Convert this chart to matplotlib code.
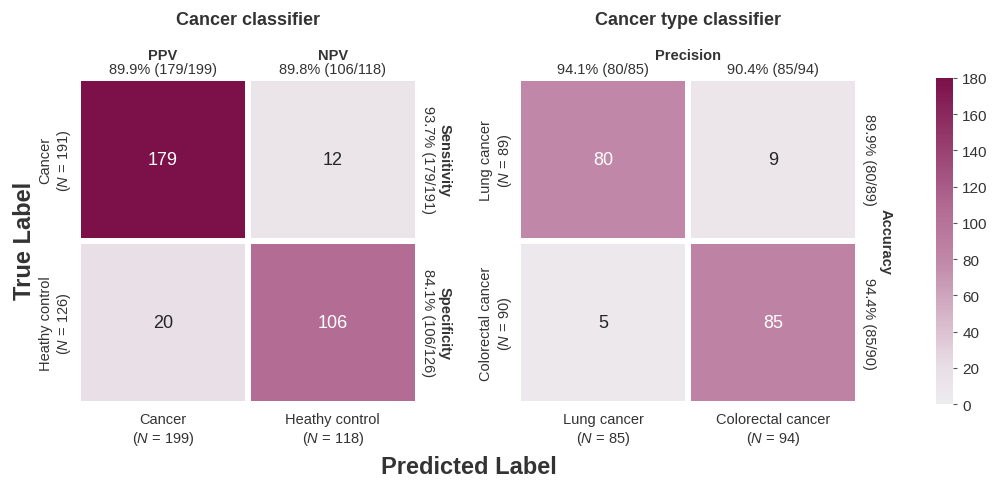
import numpy as np
import matplotlib.pyplot as plt
import seaborn as sns
from matplotlib.colors import LinearSegmentedColormap

sns.set_style('white')
plt.rcParams['font.family'] = ['Liberation Sans', 'DejaVu Sans']
plt.rcParams['mathtext.fontset'] = 'custom'
plt.rcParams['mathtext.it'] = 'Liberation Sans:italic'
plt.rcParams['mathtext.rm'] = 'Liberation Sans'

# Matrius de confusio
cancer_cm = np.array([[179, 12], [20, 106]])
type_cm = np.array([[80, 9], [5, 85]])

cancer_true = ['Cancer\n($\\mathit{N}$ = 191)', 'Heathy control\n($\\mathit{N}$ = 126)']
cancer_pred = ['Cancer\n($\\mathit{N}$ = 199)', 'Heathy control\n($\\mathit{N}$ = 118)']
type_true = ['Lung cancer\n($\\mathit{N}$ = 89)', 'Colorectal cancer\n($\\mathit{N}$ = 90)']
type_pred = ['Lung cancer\n($\\mathit{N}$ = 85)', 'Colorectal cancer\n($\\mathit{N}$ = 94)']

cancer_top_names = ['PPV', 'NPV']
cancer_top_vals = ['89.9% (179/199)', '89.8% (106/118)']
cancer_side_names = ['Sensitivity', 'Specificity']
cancer_side_vals = ['93.7% (179/191)', '84.1% (106/126)']
type_top_vals = ['94.1% (80/85)', '90.4% (85/94)']
type_side_vals = ['89.9% (80/89)', '94.4% (85/90)']

# Escala de color (gris clar -> granat)
cmap = LinearSegmentedColormap.from_list(
    'cm', [(0, '#eeebee'), (0.11, '#e9dfe6'), (0.44, '#c088a8'), (0.59, '#b36d95'), (1, '#7b1048')])
txt = '#333333'

fig = plt.figure(figsize=(9.97, 4.81), dpi=100)
ax1 = fig.add_axes([0.078, 0.158, 0.341, 0.678])
ax2 = fig.add_axes([0.520, 0.158, 0.341, 0.678])
cax = fig.add_axes([0.939, 0.158, 0.017, 0.678])

sns.heatmap(cancer_cm, ax=ax1, cmap=cmap, vmin=0, vmax=180, annot=True, fmt='d',
            linewidths=3, linecolor='white', cbar=True, cbar_ax=cax,
            xticklabels=cancer_pred, yticklabels=cancer_true, annot_kws={'fontsize': 13})
sns.heatmap(type_cm, ax=ax2, cmap=cmap, vmin=0, vmax=180, annot=True, fmt='d',
            linewidths=3, linecolor='white', cbar=False,
            xticklabels=type_pred, yticklabels=type_true, annot_kws={'fontsize': 13})

for ax in (ax1, ax2):
    ax.tick_params(length=0, labelsize=10.5, labelcolor=txt, pad=6)
    plt.setp(ax.get_yticklabels(), rotation=90, va='center', ha='center')
    plt.setp(ax.get_xticklabels(), rotation=0)
    for lab in ax.get_yticklabels():
        lab.set_x(-0.04)

# Textos de dalt i del costat (classificador de cancer)
for i in range(2):
    ax1.text(i + 0.5, 1.005, cancer_top_vals[i], transform=ax1.get_xaxis_transform(),
             ha='center', va='bottom', fontsize=10.5, color=txt)
    ax1.text(i + 0.5, 1.07, cancer_top_names[i], transform=ax1.get_xaxis_transform(),
             ha='center', va='center', fontsize=10.5, color=txt, weight='bold')
    ax1.text(1.03, i + 0.5, cancer_side_vals[i], transform=ax1.get_yaxis_transform(),
             ha='center', va='center', fontsize=10.5, color=txt, rotation=270)
    ax1.text(1.08, i + 0.5, cancer_side_names[i], transform=ax1.get_yaxis_transform(),
             ha='center', va='center', fontsize=10.5, color=txt, rotation=270, weight='bold')

# Textos (classificador de tipus)
for i in range(2):
    ax2.text(i + 0.5, 1.005, type_top_vals[i], transform=ax2.get_xaxis_transform(),
             ha='center', va='bottom', fontsize=10.5, color=txt)
    ax2.text(1.03, i + 0.5, type_side_vals[i], transform=ax2.get_yaxis_transform(),
             ha='center', va='center', fontsize=10.5, color=txt, rotation=270)
ax2.text(0.5, 1.07, 'Precision', transform=ax2.transAxes,
         ha='center', va='center', fontsize=10.5, color=txt, weight='bold')
ax2.text(1.08, 1.0, 'Accuracy', transform=ax2.get_yaxis_transform(),
         ha='center', va='center', fontsize=10.5, color=txt, rotation=270, weight='bold')

# Barra de color
cax.tick_params(length=3, width=0.8, color='#555555', labelsize=11, labelcolor=txt)
cax.set_yticks(range(0, 181, 20))
for sp in cax.spines.values():
    sp.set_visible(False)

# Titols i etiquetes
fig.text(0.249, 0.958, 'Cancer classifier', ha='center', va='center', fontsize=13, weight='bold', color=txt)
fig.text(0.690, 0.958, 'Cancer type classifier', ha='center', va='center', fontsize=13, weight='bold', color=txt)
fig.text(0.025, 0.5, 'True Label', ha='center', va='center', rotation=90, fontsize=17, weight='bold', color=txt)
fig.text(0.470, 0.028, 'Predicted Label', ha='center', va='center', fontsize=17, weight='bold', color=txt)

fig.savefig('out.png', dpi=100)
